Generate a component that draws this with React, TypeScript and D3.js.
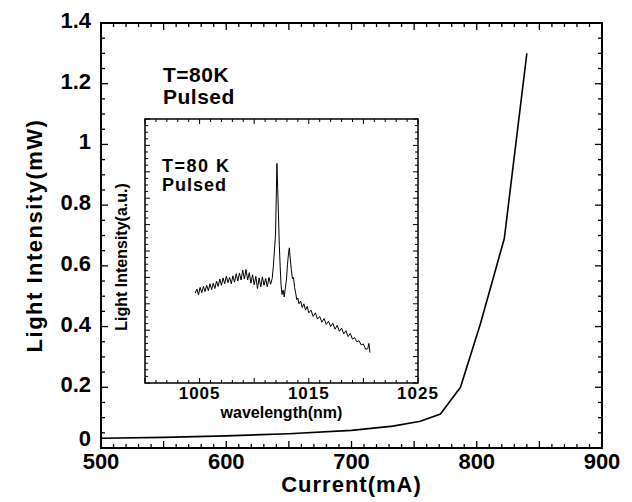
import * as d3 from 'd3'

const W = 632
const H = 502

// L-I curve (Current mA vs light intensity mW)
const current = [500, 550, 600, 650, 700, 733, 755, 771, 787, 803, 822, 840]
const power = [0.032, 0.035, 0.04, 0.047, 0.058, 0.072, 0.088, 0.112, 0.2, 0.41, 0.69, 1.3]

const xTicks = [500, 600, 700, 800, 900]
const yTicks = [0, 0.2, 0.4, 0.6, 0.8, 1, 1.2, 1.4]

// inset spectrum (nm vs a.u.)
const wavelength = [
  1004.6, 1004.75, 1004.9, 1005.05, 1005.2, 1005.35, 1005.5, 1005.65, 1005.8, 1005.95,
  1006.1, 1006.25, 1006.4, 1006.55, 1006.7, 1006.85, 1007.0, 1007.15, 1007.3, 1007.45,
  1007.6, 1007.75, 1007.9, 1008.05, 1008.2, 1008.35, 1008.5, 1008.65, 1008.8, 1008.95,
  1009.1, 1009.25, 1009.4, 1009.55, 1009.7, 1009.85, 1010.0, 1010.15, 1010.3, 1010.45,
  1010.6, 1010.75, 1010.9, 1011.05, 1011.2, 1011.35, 1011.5, 1011.65, 1011.75, 1011.85,
  1011.95, 1012.02, 1012.08, 1012.15, 1012.22, 1012.3, 1012.38, 1012.46, 1012.55, 1012.65,
  1012.75, 1012.85, 1012.95, 1013.05, 1013.15, 1013.22, 1013.3, 1013.4, 1013.5, 1013.6,
  1013.7, 1013.8, 1013.9, 1014.0, 1014.1, 1014.25, 1014.4, 1014.55, 1014.7, 1014.85,
  1015.0, 1015.2, 1015.4, 1015.6, 1015.8, 1016.0, 1016.2, 1016.4, 1016.6, 1016.8,
  1017.0, 1017.2, 1017.4, 1017.6, 1017.8, 1018.0, 1018.2, 1018.4, 1018.6, 1018.8,
  1019.0, 1019.2, 1019.4, 1019.6, 1019.8, 1020.0, 1020.2, 1020.4, 1020.5, 1020.6,
]
const intensity = [
  0.34, 0.356, 0.334, 0.362, 0.342, 0.366, 0.346, 0.37, 0.35, 0.376,
  0.354, 0.378, 0.358, 0.386, 0.366, 0.394, 0.37, 0.398, 0.376, 0.404,
  0.38, 0.4, 0.376, 0.406, 0.382, 0.414, 0.386, 0.416, 0.39, 0.428,
  0.394, 0.43, 0.39, 0.418, 0.378, 0.41, 0.372, 0.404, 0.358, 0.398,
  0.364, 0.402, 0.37, 0.396, 0.364, 0.4, 0.374, 0.396, 0.44, 0.5,
  0.56, 0.7, 0.832, 0.74, 0.64, 0.52, 0.44, 0.37, 0.335, 0.352,
  0.326, 0.36, 0.39, 0.45, 0.495, 0.512, 0.47, 0.43, 0.395, 0.4,
  0.362, 0.34, 0.316, 0.322, 0.3, 0.31, 0.286, 0.3, 0.276, 0.29,
  0.266, 0.276, 0.252, 0.266, 0.242, 0.252, 0.23, 0.244, 0.222, 0.234,
  0.214, 0.226, 0.204, 0.218, 0.196, 0.208, 0.186, 0.198, 0.176, 0.188,
  0.166, 0.172, 0.156, 0.16, 0.144, 0.148, 0.128, 0.13, 0.15, 0.115,
]
const insetTicks = [1005, 1015, 1025]

const font = '"Liberation Sans", Arial, Helvetica, sans-serif'

export default function App() {
  const x = d3.scaleLinear().domain([500, 900]).range([101, 602])
  const y = d3.scaleLinear().domain([0, 1.4]).range([448, 23])
  const ix = d3.scaleLinear().domain([1000, 1025]).range([145, 418])
  const iy = d3.scaleLinear().domain([0, 1]).range([383, 119])

  const line = d3.line<number>().x((d, i) => x(current[i])).y((d) => y(d))
  const spec = d3.line<number>().x((d, i) => ix(wavelength[i])).y((d) => iy(d))

  const xMinor = d3.range(500, 901, 10)
  const yMinor = d3.range(0, 1.401, 0.05)
  const ixMinor = d3.range(1000, 1025.01, 1)
  const iyMinor = d3.range(0, 1.001, 0.025)

  const [x0, x1] = x.range()
  const [y0, y1] = y.range()
  const [ix0, ix1] = ix.range()
  const [iy0, iy1] = iy.range()

  return (
    <svg width={W} height={H} style={{ position: 'absolute', left: 0, top: 0, background: '#fff' }}
      fontFamily={font} fontWeight="bold">
      {/* main ticks */}
      <g stroke="#000" strokeWidth={1.3}>
        {xMinor.map((v) => {
          const len = v % 50 === 0 ? 7 : 4
          return (
            <g key={'x' + v}>
              <line x1={x(v)} x2={x(v)} y1={y0} y2={y0 - len} />
              <line x1={x(v)} x2={x(v)} y1={y1} y2={y1 + len} />
            </g>
          )
        })}
        {yMinor.map((v, i) => {
          const len = i % 4 === 0 ? 7 : 4
          return (
            <g key={'y' + i}>
              <line x1={x0} x2={x0 + len} y1={y(v)} y2={y(v)} />
              <line x1={x1} x2={x1 - len} y1={y(v)} y2={y(v)} />
            </g>
          )
        })}
      </g>
      <rect x={x0} y={y1} width={x1 - x0} height={y0 - y1} fill="none" stroke="#000" strokeWidth={2} />
      <path d={line(power) ?? ''} fill="none" stroke="#000" strokeWidth={1.6} />

      {/* main tick labels */}
      <g fontSize={22} fill="#000">
        {xTicks.map((v) => (
          <text key={v} x={x(v)} y={469} textAnchor="middle">{v}</text>
        ))}
        {yTicks.map((v) => (
          <text key={v} x={91} y={v === 0 ? 446 : y(v) + 5} textAnchor="end">{v}</text>
        ))}
      </g>
      <text x={(x0 + x1) / 2} y={492} textAnchor="middle" fontSize={22} letterSpacing={1}>Current(mA)</text>
      <text transform={`translate(42,${(y0 + y1) / 2}) rotate(-90)`} textAnchor="middle" fontSize={22}
        letterSpacing={1.5}>
        Light Intensity(mW)
      </text>
      <text x={163} y={82} fontSize={21} letterSpacing={0.5}>T=80K</text>
      <text x={163} y={104} fontSize={21} letterSpacing={0.5}>Pulsed</text>

      {/* inset */}
      <rect x={ix0} y={iy1} width={ix1 - ix0} height={iy0 - iy1} fill="#fff" stroke="#000" strokeWidth={1.5} />
      <g stroke="#000" strokeWidth={1}>
        {ixMinor.map((v) => {
          const len = v % 5 === 0 ? 5 : 3
          return (
            <g key={'ix' + v}>
              <line x1={ix(v)} x2={ix(v)} y1={iy0} y2={iy0 - len} />
              <line x1={ix(v)} x2={ix(v)} y1={iy1} y2={iy1 + len} />
            </g>
          )
        })}
        {iyMinor.map((v, i) => {
          const len = i % 4 === 0 ? 5 : 3
          return (
            <g key={'iy' + i}>
              <line x1={ix0} x2={ix0 + len} y1={iy(v)} y2={iy(v)} />
              <line x1={ix1} x2={ix1 - len} y1={iy(v)} y2={iy(v)} />
            </g>
          )
        })}
      </g>
      <path d={spec(intensity) ?? ''} fill="none" stroke="#000" strokeWidth={1} />
      <g fontSize={17} fill="#000">
        {insetTicks.map((v) => (
          <text key={v} x={ix(v)} y={399} textAnchor="middle" letterSpacing={1}>{v}</text>
        ))}
      </g>
      <text x={(ix0 + ix1) / 2} y={418} textAnchor="middle" fontSize={16}>wavelength(nm)</text>
      <text transform={`translate(127,${(iy0 + iy1) / 2 + 6}) rotate(-90)`} textAnchor="middle" fontSize={16}>
        Light Intensity(a.u.)
      </text>
      <text x={162} y={172} fontSize={18} letterSpacing={1.5}>T=80 K</text>
      <text x={162} y={191} fontSize={18} letterSpacing={1}>Pulsed</text>
    </svg>
  )
}
